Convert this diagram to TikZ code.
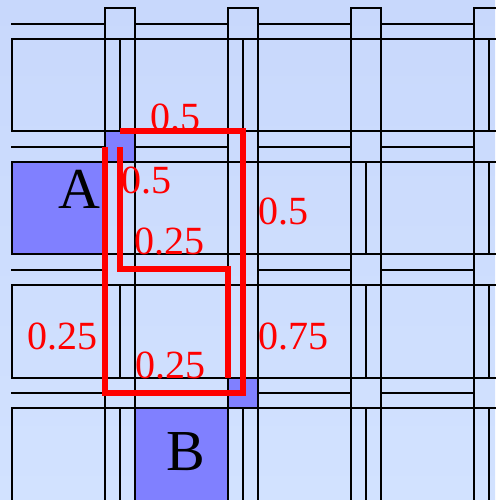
\documentclass[tikz,border=0pt]{standalone}
\usepackage{fontspec}
\setmainfont{Liberation Serif}
\definecolor{bgtop}{RGB}{200,216,252}
\definecolor{bgbot}{RGB}{210,226,255}
\definecolor{hotblue}{RGB}{128,128,255}
\begin{document}
\begin{tikzpicture}[x=1pt,y=-1pt,
  grid/.style={line width=2.2pt, black, line cap=rect},
  hot/.style={fill=hotblue},
  wire/.style={red, line width=5.2pt},
  cost/.style={red, font=\fontsize{40}{40}\selectfont, inner sep=0pt, anchor=base west},
  blockname/.style={black, font=\fontsize{58}{58}\selectfont, inner sep=0pt, anchor=base west}]
\useasboundingbox (0,0) rectangle (495,500);
\shade[top color=bgtop, bottom color=bgbot] (0,0) rectangle (495,500);

% highlighted logic blocks and switch boxes
\fill[hot] (12,162) rectangle (105,254);   % block A
\fill[hot] (135,408) rectangle (228,500);  % block B
\fill[hot] (105,131) rectangle (135,162);  % source switch box
\fill[hot] (228,378) rectangle (258,408);  % sink switch box

% channel edges and block outlines
\foreach \y in {39,131,162,254,285,378,408}
  \draw[grid] (12,\y) -- (495,\y);
\foreach \x in {105,135,228,258,351,381,474}
  \draw[grid] (\x,8) -- (\x,500);
\foreach \t/\b in {39/131,162/254,285/378,408/500}
  \draw[grid] (12,\t) -- (12,\b);
% tops of the first row of switch boxes
\foreach \x/\e in {105/135,228/258,351/381,474/495}
  \draw[grid] (\x,8) -- (\e,8);

% middle tracks of the horizontal channels
\foreach \y in {24,147,270,393}
  \foreach \x in {12,135,258,381}
    \draw[grid] (\x,\y) -- (\x+93,\y);

% middle tracks of the vertical channels
\foreach \x/\t/\b in {120/39/131,120/162/254,120/285/378,120/408/500,
                      243/39/131,243/162/254,243/285/378,243/408/500,
                      366/162/254,366/285/378,366/408/500,
                      489/39/131,489/162/254,489/285/378,489/408/500}
  \draw[grid] (\x,\t) -- (\x,\b);

% routed wires
\coordinate (o1) at (105,147);
\coordinate (o2) at (105,393);
\coordinate (o3) at (243,393);
\coordinate (o4) at (243,131);
\coordinate (o5) at (120,131);
\draw[wire] (o1) -- (o2) -- (o3) -- (o4) -- (o5);
\coordinate (i1) at (120,147);
\coordinate (i2) at (120,269);
\coordinate (i3) at (228,269);
\coordinate (i4) at (228,378);
\draw[wire] (i1) -- (i2) -- (i3) -- (i4);

% segment costs
\node[cost] (ctop)   at (150,130) {0.5};
\node[cost] (cleftA) at (121,193) {0.5};
\node[cost] (cright) at (258,224) {0.5};
\node[cost] (cmid)   at (134,254) {0.25};
\node[cost] (cleft)  at (27,349)  {0.25};
\node[cost] (cfar)   at (258,349) {0.75};
\node[cost] (cbot)   at (135,378) {0.25};

% block names
\node[blockname] (A) at (58,208) {A};
\node[blockname] (B) at (166,470) {B};
\end{tikzpicture}
\end{document}
